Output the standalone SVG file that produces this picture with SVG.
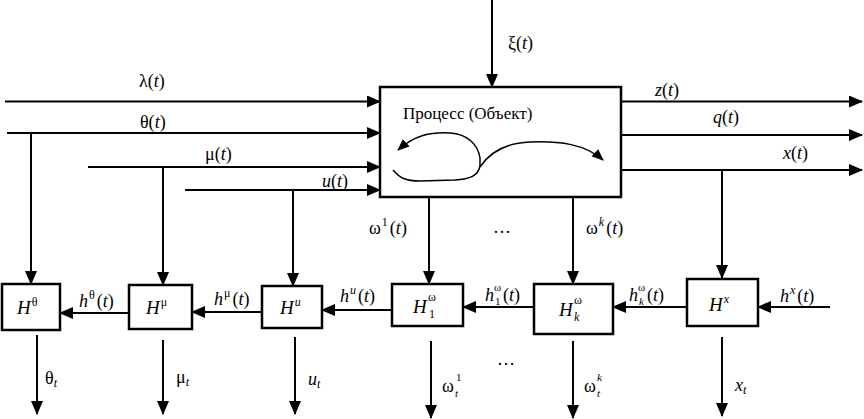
<svg xmlns="http://www.w3.org/2000/svg" width="864" height="419" viewBox="0 0 864 419">
<defs>
<marker id="ar" markerUnits="userSpaceOnUse" markerWidth="14" markerHeight="12" refX="13" refY="6" orient="auto">
<path d="M0,0 L14,6 L0,12 Z" fill="#000"/>
</marker>
<marker id="sa" markerUnits="userSpaceOnUse" markerWidth="12" markerHeight="10" refX="11" refY="5" orient="auto">
<path d="M0,0 L12,5 L0,10 Z" fill="#000"/>
</marker>
</defs>
<rect width="864" height="419" fill="#fff"/>
<g id="connectors" stroke="#000" stroke-width="2" fill="none" marker-end="url(#ar)">
<line x1="492" y1="0" x2="492" y2="87"/>
<line x1="5" y1="101.5" x2="380" y2="101.5"/>
<line x1="7" y1="133" x2="380" y2="133"/>
<line x1="88" y1="167" x2="380" y2="167"/>
<line x1="185" y1="190" x2="380" y2="190"/>
<line x1="621" y1="101.5" x2="862" y2="101.5"/>
<line x1="621" y1="135" x2="862" y2="135"/>
<line x1="621" y1="170" x2="862" y2="170"/>
<line x1="31" y1="133" x2="31" y2="284"/>
<line x1="163" y1="167" x2="163" y2="285"/>
<line x1="293" y1="190" x2="293" y2="286"/>
<line x1="429" y1="197" x2="429" y2="284"/>
<line x1="573" y1="197" x2="573" y2="284"/>
<line x1="722" y1="170" x2="722" y2="278"/>
<line x1="129" y1="313" x2="60" y2="313"/>
<line x1="262" y1="312" x2="192" y2="312"/>
<line x1="393" y1="310" x2="322" y2="310"/>
<line x1="534" y1="307" x2="463" y2="307"/>
<line x1="687" y1="307" x2="613" y2="307"/>
<line x1="830" y1="307" x2="758" y2="307"/>
<line x1="37" y1="335" x2="37" y2="414"/>
<line x1="163" y1="340" x2="163" y2="414"/>
<line x1="295" y1="337" x2="295" y2="414"/>
<line x1="431" y1="341" x2="431" y2="418"/>
<line x1="573" y1="341" x2="573" y2="418"/>
<line x1="722" y1="337" x2="722" y2="416"/>
</g>
<g id="process">
<rect x="380" y="87" width="241" height="110" stroke="#000" stroke-width="2.5" fill="#fff"/>
<text font-family="Liberation Serif" font-size="17" x="403" y="119">Процесс (Объект)</text>
<g stroke="#000" stroke-width="1.5" fill="none" marker-end="url(#sa)">
<path d="M393,170 C400,178 405,181 420,181 L455,180 C470,179 478,176 480,166 L480,158 C478,145 468,134 450,133 C430,132 415,135 398,150"/>
<path d="M480,167 C490,152 505,143 530,142 C560,141 585,144 603,160"/>
</g>
</g>
<g id="H-theta">
<rect x="2" y="284" width="58" height="46" stroke="#000" stroke-width="2.5" fill="#fff"/>
<text font-family="Liberation Serif" font-size="19" font-style="italic" x="17" y="314">H<tspan font-size="12" font-style="normal" dx="1" dy="-8">θ</tspan></text>
</g>
<g id="H-mu">
<rect x="129" y="285" width="63" height="44" stroke="#000" stroke-width="2.5" fill="#fff"/>
<text font-family="Liberation Serif" font-size="19" font-style="italic" x="146" y="314">H<tspan font-size="12" font-style="normal" dx="1" dy="-8">μ</tspan></text>
</g>
<g id="H-u">
<rect x="262" y="286" width="60" height="42" stroke="#000" stroke-width="2.5" fill="#fff"/>
<text font-family="Liberation Serif" font-size="19" font-style="italic" x="280" y="314">H<tspan font-size="12" dx="1" dy="-8">u</tspan></text>
</g>
<g id="H-omega1">
<rect x="392" y="284" width="71" height="42" stroke="#000" stroke-width="2.5" fill="#fff"/>
<text font-family="Liberation Serif" font-size="19" font-style="italic" x="413" y="313">H</text>
<text font-family="Liberation Serif" font-size="12" x="428" y="301">ω</text>
<text font-family="Liberation Serif" font-size="12" x="429" y="318">1</text>
</g>
<g id="H-omegak">
<rect x="534" y="284" width="79" height="50" stroke="#000" stroke-width="2.5" fill="#fff"/>
<text font-family="Liberation Serif" font-size="19" font-style="italic" x="559" y="316">H</text>
<text font-family="Liberation Serif" font-size="12" x="574" y="304">ω</text>
<text font-family="Liberation Serif" font-size="12" font-style="italic" x="574" y="321">k</text>
</g>
<g id="H-x">
<rect x="687" y="279" width="71" height="47" stroke="#000" stroke-width="2.5" fill="#fff"/>
<text font-family="Liberation Serif" font-size="19" font-style="italic" x="709" y="311">H<tspan font-size="12" dx="1" dy="-8">x</tspan></text>
</g>
<g id="labels">
<text font-family="Liberation Serif" font-size="18" x="508" y="49">ξ(<tspan font-style="italic">t</tspan>)</text>
<text font-family="Liberation Serif" font-size="18" x="139" y="87">λ(<tspan font-style="italic">t</tspan>)</text>
<text font-family="Liberation Serif" font-size="18" x="140" y="128">θ(<tspan font-style="italic">t</tspan>)</text>
<text font-family="Liberation Serif" font-size="18" x="205" y="160">μ(<tspan font-style="italic">t</tspan>)</text>
<text font-family="Liberation Serif" font-size="18" x="322" y="187"><tspan font-style="italic">u</tspan>(<tspan font-style="italic">t</tspan>)</text>
<text font-family="Liberation Serif" font-size="18" x="655" y="96"><tspan font-style="italic">z</tspan>(<tspan font-style="italic">t</tspan>)</text>
<text font-family="Liberation Serif" font-size="18" x="713" y="123"><tspan font-style="italic">q</tspan>(<tspan font-style="italic">t</tspan>)</text>
<text font-family="Liberation Serif" font-size="18" x="783" y="159"><tspan font-style="italic">x</tspan>(<tspan font-style="italic">t</tspan>)</text>
<text font-family="Liberation Serif" font-size="18" x="369" y="234">ω<tspan font-size="12" dx="1" dy="-8">1</tspan><tspan dx="2" dy="8">(</tspan><tspan font-style="italic">t</tspan>)</text>
<text font-family="Liberation Serif" font-size="18" x="493" y="233">…</text>
<text font-family="Liberation Serif" font-size="18" x="586" y="234">ω<tspan font-size="12" font-style="italic" dx="1" dy="-8">k</tspan><tspan dx="2" dy="8">(</tspan><tspan font-style="italic">t</tspan>)</text>
<text font-family="Liberation Serif" font-size="18" x="79" y="307"><tspan font-style="italic">h</tspan><tspan font-size="12" dx="1" dy="-8">θ</tspan><tspan dx="2" dy="8">(</tspan><tspan font-style="italic">t</tspan>)</text>
<text font-family="Liberation Serif" font-size="18" x="214" y="305"><tspan font-style="italic">h</tspan><tspan font-size="12" dx="1" dy="-8">μ</tspan><tspan dx="2" dy="8">(</tspan><tspan font-style="italic">t</tspan>)</text>
<text font-family="Liberation Serif" font-size="18" x="340" y="302"><tspan font-style="italic">h</tspan><tspan font-size="12" font-style="italic" dx="1" dy="-8">u</tspan><tspan dx="2" dy="8">(</tspan><tspan font-style="italic">t</tspan>)</text>
<text font-family="Liberation Serif" font-size="18" font-style="italic" x="485" y="301">h</text>
<text font-family="Liberation Serif" font-size="11" x="494" y="291">ω</text>
<text font-family="Liberation Serif" font-size="11" x="495" y="305">1</text>
<text font-family="Liberation Serif" font-size="18" x="503" y="301">(<tspan font-style="italic">t</tspan>)</text>
<text font-family="Liberation Serif" font-size="18" font-style="italic" x="629" y="301">h</text>
<text font-family="Liberation Serif" font-size="11" x="638" y="291">ω</text>
<text font-family="Liberation Serif" font-size="11" font-style="italic" x="639" y="305">k</text>
<text font-family="Liberation Serif" font-size="18" x="647" y="301">(<tspan font-style="italic">t</tspan>)</text>
<text font-family="Liberation Serif" font-size="18" x="780" y="302"><tspan font-style="italic">h</tspan><tspan font-size="12" font-style="italic" dx="1" dy="-8">x</tspan><tspan dx="2" dy="8">(</tspan><tspan font-style="italic">t</tspan>)</text>
<text font-family="Liberation Serif" font-size="18" x="45" y="384">θ<tspan font-size="12" font-style="italic" dy="3">t</tspan></text>
<text font-family="Liberation Serif" font-size="18" x="176" y="383">μ<tspan font-size="12" font-style="italic" dy="3">t</tspan></text>
<text font-family="Liberation Serif" font-size="18" font-style="italic" x="308" y="385">u<tspan font-size="12" dy="3">t</tspan></text>
<text font-family="Liberation Serif" font-size="18" x="442" y="392">ω</text>
<text font-family="Liberation Serif" font-size="11" font-style="italic" x="455" y="397">t</text>
<text font-family="Liberation Serif" font-size="11" x="456" y="381">1</text>
<text font-family="Liberation Serif" font-size="18" x="584" y="392">ω</text>
<text font-family="Liberation Serif" font-size="11" font-style="italic" x="597" y="397">t</text>
<text font-family="Liberation Serif" font-size="11" font-style="italic" x="597" y="381">k</text>
<text font-family="Liberation Serif" font-size="18" font-style="italic" x="735" y="391">x<tspan font-size="12" dy="3">t</tspan></text>
<text font-family="Liberation Serif" font-size="18" x="497" y="365">…</text>
</g>
</svg>
